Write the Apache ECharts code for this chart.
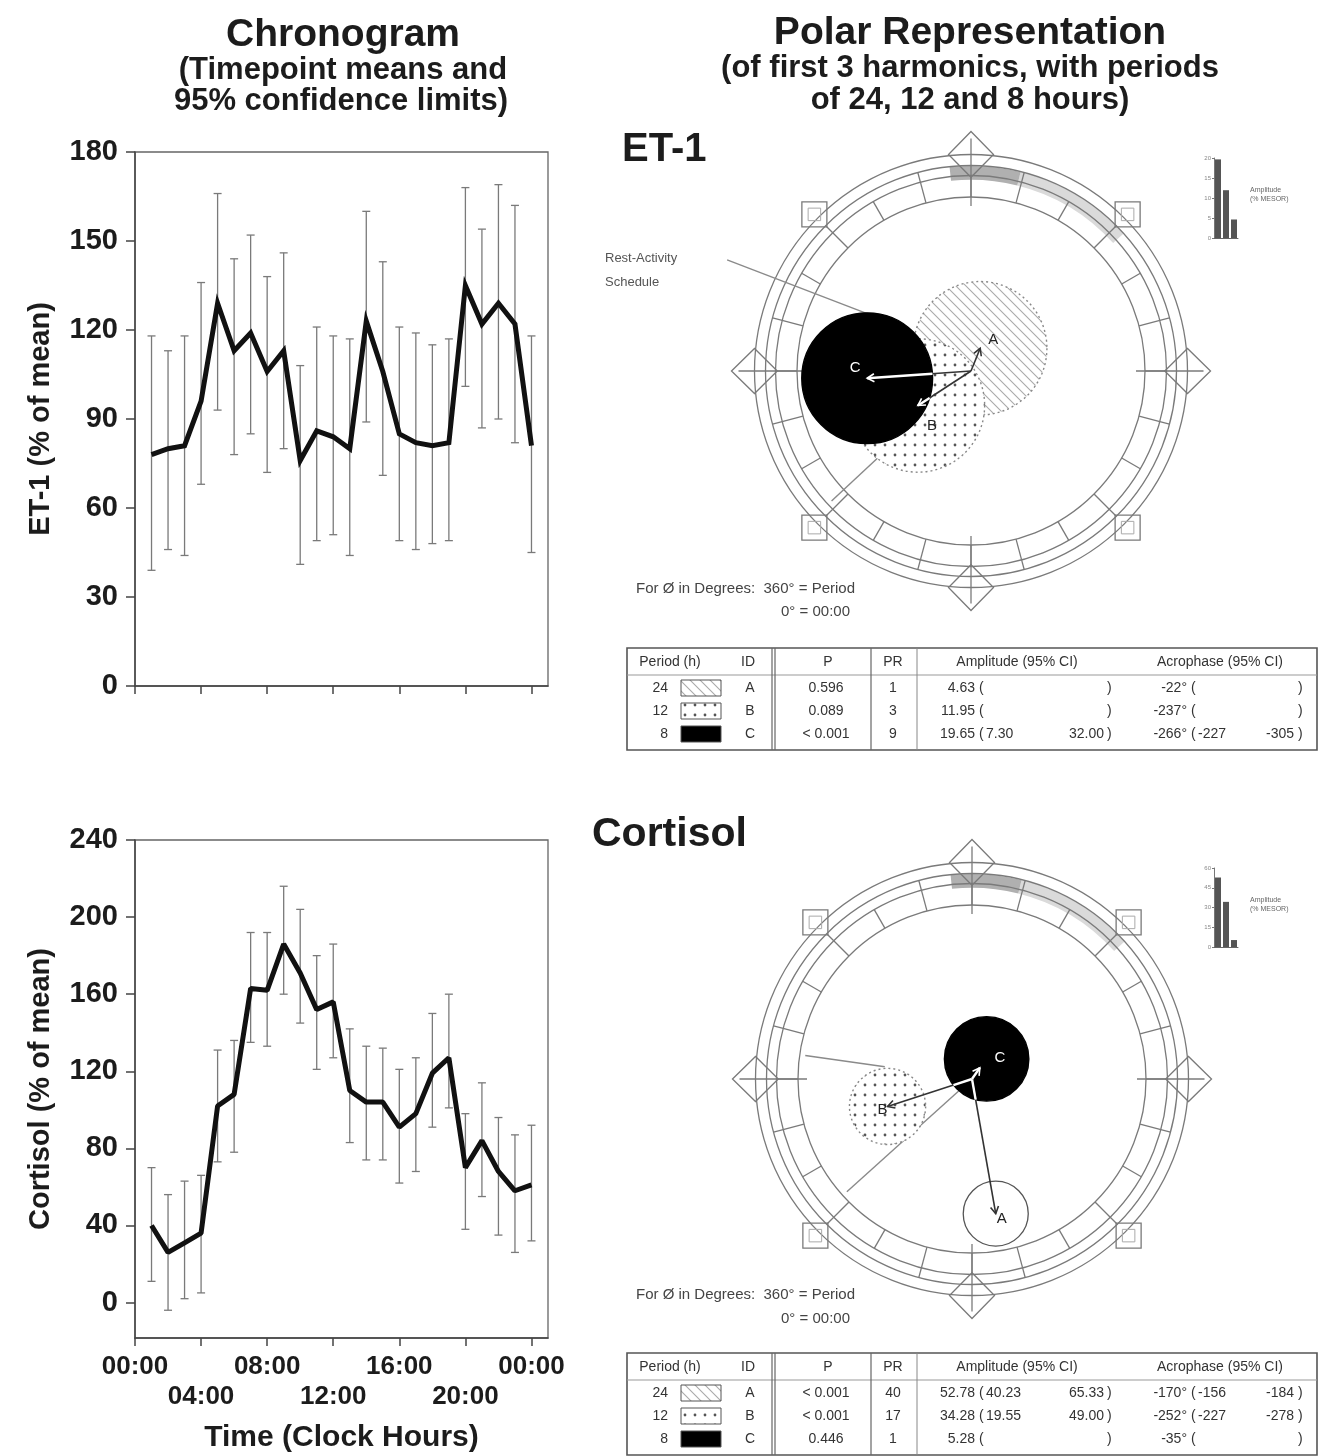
<!DOCTYPE html>
<html><head><meta charset="utf-8">
<script src="https://cdn.jsdelivr.net/npm/echarts@6/dist/echarts.min.js"></script>
<style>html,body{margin:0;padding:0;background:#fff}#c{width:1320px;height:1456px}</style>
</head><body><div id="c"></div>
<script>
// ---------------- DATA ----------------
const hours = [1,2,3,4,5,6,7,8,9,10,11,12,13,14,15,16,17,18,19,20,21,22,23,24];
const et1Mean  = [78, 80, 81, 96, 129, 113, 119, 106, 113, 76, 86, 84, 80, 123, 106, 85, 82, 81, 82, 135, 122, 129, 122, 81];
const et1Upper = [118, 113, 118, 136, 166, 144, 152, 138, 146, 108, 121, 118, 117, 160, 143, 121, 119, 115, 117, 168, 154, 169, 162, 118];
const et1Lower = [39, 46, 44, 68, 93, 78, 85, 72, 80, 41, 49, 51, 44, 89, 71, 49, 46, 48, 49, 101, 87, 90, 82, 45];
const cortMean  = [40, 26, 31, 36, 102, 108, 163, 162, 186, 171, 152, 156, 110, 104, 104, 91, 98, 119, 127, 70, 84, 68, 58, 61];
const cortUpper = [70, 56, 63, 66, 131, 136, 192, 192, 216, 204, 180, 186, 142, 133, 132, 121, 127, 150, 160, 98, 114, 96, 87, 92];
const cortLower = [11, -4, 2, 5, 73, 78, 135, 133, 160, 145, 121, 127, 83, 74, 74, 62, 68, 91, 101, 38, 55, 35, 26, 32];
const xTickHours  = [0, 4, 8, 12, 16, 20, 24];
const xTickLabels = ['00:00','04:00','08:00','12:00','16:00','20:00','00:00'];
const et1YTicks  = [0, 30, 60, 90, 120, 150, 180];
const cortYTicks = [0, 40, 80, 120, 160, 200, 240];

// harmonics (cosinor)
const harmPeriods = [24, 12, 8];
const harmIds = ['A', 'B', 'C'];
const et1P = ['0.596', '0.089', '< 0.001'];
const et1PR = [1, 3, 9];
const et1Amp = [4.63, 11.95, 19.65];
const et1AmpCI = [null, null, [7.30, 32.00]];
const et1Phase = [-22, -237, -266];
const et1PhaseCI = [null, null, [-227, -305]];
const et1RegionAmp = [4.63, 11.95, 19.65];
const et1RegionPhase = [-22, -237, -266];
const et1RegionRadius = [12.6, 12.6, 12.35];
const et1RestLines = [[0, 227, 36, 227], [19.8, 300, 50.6, 294.5]]; // [r1, clockDeg1, r2, clockDeg2]

const cortP = ['< 0.001', '< 0.001', '0.446'];
const cortPR = [40, 17, 1];
const cortAmp = [52.78, 34.28, 5.28];
const cortAmpCI = [[40.23, 65.33], [19.55, 49.00], null];
const cortPhase = [-170, -252, -35];
const cortPhaseCI = [[-156, -184], [-227, -278], null];
const cortRegionAmp = [52.78, 34.28, 9.6];
const cortRegionPhase = [-170, -252, -36];
const cortRegionRadius = [12.55, 14.7, 16.3];
const cortRestLines = [[0, 228, 65, 228], [34, 278, 65, 278]];

const et1PolarMax = 47.2;   // amplitude units at polar frame half-size
const cortPolarMax = 96.5;
const et1MiniTicks = [0, 5, 10, 15, 20];
const cortMiniTicks = [0, 15, 30, 45, 60];

// ---------------- HELPERS ----------------
const FONT = '"Liberation Sans", Arial, Helvetica, sans-serif';
const INK = '#1c1c1c';
function polarXY(amp, phase) { const t = -phase * Math.PI / 180; return [amp * Math.sin(t), amp * Math.cos(t)]; }
function angXY(r, deg) { const t = deg * Math.PI / 180; return [r * Math.sin(t), r * Math.cos(t)]; }

function makePattern(type, bg) {
  const c = document.createElement('canvas'); c.width = c.height = 10;
  const g = c.getContext('2d');
  if (bg) { g.fillStyle = bg; g.fillRect(0, 0, 10, 10); }
  if (type === 'dots') { g.fillStyle = '#555'; g.beginPath(); g.arc(5, 5, 1.4, 0, Math.PI * 2); g.fill(); }
  if (type === 'hatch') { g.strokeStyle = '#aaa'; g.lineWidth = 1.1; g.beginPath();
    g.moveTo(0, 0); g.lineTo(10, 10); g.moveTo(-5, 5); g.lineTo(5, 15); g.moveTo(5, -5); g.lineTo(15, 5); g.stroke(); }
  return { image: c, repeat: 'repeat' };
}
const hatchFill = makePattern('hatch', '#fff');
const dotsFill = makePattern('dots', '#fff');

function errRender(params, api) {
  const x = api.value(0), lo = api.value(1), hi = api.value(2);
  const p1 = api.coord([x, hi]), p2 = api.coord([x, lo]);
  const w = 4, st = { stroke: '#7a7a7a', lineWidth: 1.3 };
  return { type: 'group', children: [
    { type: 'line', shape: { x1: p1[0], y1: p1[1], x2: p2[0], y2: p2[1] }, style: st },
    { type: 'line', shape: { x1: p1[0] - w, y1: p1[1], x2: p1[0] + w, y2: p1[1] }, style: st },
    { type: 'line', shape: { x1: p2[0] - w, y1: p2[1], x2: p2[0] + w, y2: p2[1] }, style: st }
  ]};
}

function frameRender(M) {
  return function (params, api) {
    const c = api.coord([0, 0]); const H = api.size([M, 0])[0];
    const P = (r, deg) => { const t = deg * Math.PI / 180; return [c[0] + r * H * Math.sin(t), c[1] - r * H * Math.cos(t)]; };
    const zr = d => (d - 90) * Math.PI / 180;
    const st = { stroke: '#7a7a7a', lineWidth: 1.3, fill: 'none' };
    const kids = [];
    kids.push({ type: 'sector', shape: { cx: c[0], cy: c[1], r0: 0.765 * H, r: 0.82 * H, startAngle: zr(14), endAngle: zr(48), clockwise: true }, style: { fill: '#dadada' } });
    kids.push({ type: 'sector', shape: { cx: c[0], cy: c[1], r0: 0.765 * H, r: 0.82 * H, startAngle: zr(-6), endAngle: zr(14), clockwise: true }, style: { fill: '#b0b0b0' } });
    [0.866, 0.822, 0.782, 0.696].forEach(r => kids.push({ type: 'circle', shape: { cx: c[0], cy: c[1], r: r * H }, style: st }));
    for (let h = 0; h < 24; h++) {
      const a = P(0.696, h * 15), b = P(0.782, h * 15);
      kids.push({ type: 'line', shape: { x1: a[0], y1: a[1], x2: b[0], y2: b[1] }, style: st });
      if (h % 2 === 1) { const a2 = P(0.782, h * 15), b2 = P(0.822, h * 15);
        kids.push({ type: 'line', shape: { x1: a2[0], y1: a2[1], x2: b2[0], y2: b2[1] }, style: st }); }
    }
    [0, 90, 180, 270].forEach(d => {
      const a = P(0.66, d), b = P(0.93, d);
      kids.push({ type: 'line', shape: { x1: a[0], y1: a[1], x2: b[0], y2: b[1] }, style: st });
      const t = d * Math.PI / 180, px = Math.cos(t), py = Math.sin(t);
      const base = P(0.866, d), off = 0.09 * H;
      const pts = [P(0.958, d), [base[0] + px * off, base[1] + py * off], P(0.775, d), [base[0] - px * off, base[1] - py * off]];
      kids.push({ type: 'polygon', shape: { points: pts }, style: st });
    });
    [45, 135, 225, 315].forEach(d => {
      const m = P(0.886, d), s = 0.1 * H;
      kids.push({ type: 'rect', shape: { x: m[0] - s / 2, y: m[1] - s / 2, width: s, height: s }, style: st });
      kids.push({ type: 'rect', shape: { x: m[0] - s / 4, y: m[1] - s / 4, width: s / 2, height: s / 2 }, style: { stroke: '#aaa', lineWidth: 1, fill: 'none' } });
    });
    return { type: 'group', children: kids };
  };
}

function restRender(params, api) {
  const a = api.coord(angXY(api.value(0), api.value(1)));
  const b = api.coord(angXY(api.value(2), api.value(3)));
  return { type: 'line', shape: { x1: a[0], y1: a[1], x2: b[0], y2: b[1] }, style: { stroke: '#8a8a8a', lineWidth: 1.4 } };
}

function regionRender(styles) {
  return function (params, api) {
    const c = api.coord([api.value(0), api.value(1)]);
    const r = api.size([api.value(2), 0])[0];
    const s = styles[api.value(3)];
    return { type: 'circle', shape: { cx: c[0], cy: c[1], r: r },
      style: { fill: s.fill, stroke: s.stroke, lineWidth: s.lw || 1.4, lineDash: s.dash || null } };
  };
}

function vectorRender(black, labelOff, labelColor) {
  return function (params, api) {
    const i = api.value(2);
    const o = api.coord([0, 0]); const e = api.coord([api.value(0), api.value(1)]);
    const dx = e[0] - o[0], dy = e[1] - o[1];
    const kids = [{ type: 'line', shape: { x1: o[0], y1: o[1], x2: e[0], y2: e[1] }, style: { stroke: '#333', lineWidth: 1.6 } }];
    const cc = api.coord([black[0], black[1]]); const rr = api.size([black[2], 0])[0];
    const fx = o[0] - cc[0], fy = o[1] - cc[1];
    const a = dx * dx + dy * dy, b = 2 * (fx * dx + fy * dy), cq = fx * fx + fy * fy - rr * rr;
    const disc = b * b - 4 * a * cq;
    if (a > 0 && disc > 0) {
      const t1 = Math.max(0, (-b - Math.sqrt(disc)) / (2 * a)), t2 = Math.min(1, (-b + Math.sqrt(disc)) / (2 * a));
      if (t2 > t1) kids.push({ type: 'line', shape: { x1: o[0] + t1 * dx, y1: o[1] + t1 * dy, x2: o[0] + t2 * dx, y2: o[1] + t2 * dy }, style: { stroke: '#fff', lineWidth: 2.4 } });
    }
    const L = Math.sqrt(a) || 1, ux = dx / L, uy = dy / L;
    const tipInside = Math.hypot(e[0] - cc[0], e[1] - cc[1]) < rr;
    const wc = tipInside ? '#fff' : '#333';
    kids.push({ type: 'polyline', shape: { points: [[e[0] - 7 * ux + 4 * uy, e[1] - 7 * uy - 4 * ux], [e[0], e[1]], [e[0] - 7 * ux - 4 * uy, e[1] - 7 * uy + 4 * ux]] }, style: { stroke: wc, lineWidth: 1.6, fill: 'none' } });
    kids.push({ type: 'text', x: e[0] + labelOff[i][0], y: e[1] + labelOff[i][1],
      style: { text: harmIds[i], font: '15px ' + FONT, fill: labelColor[i], align: 'center', verticalAlign: 'middle', textAlign: 'center', textVerticalAlign: 'middle' } });
    return { type: 'group', children: kids };
  };
}

// ---------------- AXES ----------------
const tickStyle = { color: '#444', width: 1.5 };
const rowOneHours = xTickHours.filter((h, k) => k % 2 === 0);
const rowTwoHours = xTickHours.filter((h, k) => k % 2 === 1);
const hourLabel = v => xTickLabels[xTickHours.indexOf(v)];
function chronoX(gridIndex, showLabels) {
  return {
    type: 'value', gridIndex, min: 0, max: 25, position: 'bottom',
    axisLine: { show: true, onZero: false, lineStyle: tickStyle },
    axisTick: { show: true, length: 8, inside: false, customValues: xTickHours, lineStyle: tickStyle },
    splitLine: { show: false },
    axisLabel: {
      show: showLabels, customValues: rowOneHours, showMinLabel: true, showMaxLabel: true, hideOverlap: false,
      margin: 16, fontSize: 26, fontWeight: 'bold', fontFamily: FONT, color: INK, formatter: hourLabel
    },
    name: showLabels ? 'Time (Clock Hours)' : '', nameLocation: 'middle', nameGap: 85,
    nameTextStyle: { fontSize: 30, fontWeight: 'bold', fontFamily: FONT, color: INK }
  };
}
function chronoXRow2(gridIndex) {
  return {
    type: 'value', gridIndex, min: 0, max: 25, position: 'bottom', offset: 0,
    axisLine: { show: false, onZero: false }, axisTick: { show: false }, splitLine: { show: false },
    axisLabel: { show: true, customValues: rowTwoHours, showMinLabel: true, showMaxLabel: true, hideOverlap: false,
      margin: 46, fontSize: 26, fontWeight: 'bold', fontFamily: FONT, color: INK, formatter: hourLabel }
  };
}
function chronoY(gridIndex, min, max, ticks, name) {
  return {
    type: 'value', gridIndex, min, max,
    axisLine: { show: true, onZero: false, lineStyle: tickStyle },
    axisTick: { show: true, length: 9, customValues: ticks, lineStyle: tickStyle },
    splitLine: { show: false },
    axisLabel: { customValues: ticks, showMinLabel: true, showMaxLabel: true, margin: 17, fontSize: 29, fontWeight: 'bold', fontFamily: FONT, color: INK },
    name, nameLocation: 'middle', nameGap: 80,
    nameTextStyle: { fontSize: 29, fontWeight: 'bold', fontFamily: FONT, color: INK }
  };
}
function hiddenAxis(gridIndex, M) { return { type: 'value', gridIndex, min: -M, max: M, show: false }; }
function miniX(gridIndex) { return { type: 'category', gridIndex, data: ['1', '2', '3'], axisLine: { lineStyle: { color: '#666' } }, axisTick: { show: false }, axisLabel: { show: false } }; }
function miniY(gridIndex, ticks) {
  return { type: 'value', gridIndex, min: 0, max: ticks[ticks.length - 1], interval: ticks[1] - ticks[0],
    axisLine: { show: true, lineStyle: { color: '#777' } }, axisTick: { show: true, length: 2, lineStyle: { color: '#777' } },
    splitLine: { show: false }, axisLabel: { fontSize: 6, color: '#888', margin: 3, fontFamily: FONT } };
}

// ---------------- POLAR DATA ----------------
const et1Regions = harmIds.map((id, i) => [...polarXY(et1RegionAmp[i], et1RegionPhase[i]), et1RegionRadius[i], i]);
const cortRegions = harmIds.map((id, i) => [...polarXY(cortRegionAmp[i], cortRegionPhase[i]), cortRegionRadius[i], i]);
const et1Vectors = harmIds.map((id, i) => [...polarXY(et1Amp[i], et1Phase[i]), i]);
const cortVectors = harmIds.map((id, i) => [...polarXY(cortAmp[i], cortPhase[i]), i]);
const et1RegStyles = [
  { fill: hatchFill, stroke: '#888', dash: [2, 3] },
  { fill: dotsFill, stroke: '#888', dash: [2, 3] },
  { fill: '#000', stroke: '#000' }];
const cortRegStyles = [
  { fill: '#fff', stroke: '#555', lw: 1.3 },
  { fill: dotsFill, stroke: '#888', dash: [2, 3] },
  { fill: '#000', stroke: '#000' }];
const sortedDesc = arr => arr.slice().sort((a, b) => b - a);

function polarSeries(gi, M, regions, vectors, restLines, regStyles, labelOff, labelColor) {
  return [
    { type: 'custom', xAxisIndex: gi, yAxisIndex: gi, clip: false, silent: true, z: 1, data: [[0, 0]], renderItem: frameRender(M), encode: { x: 0, y: 1 } },
    { type: 'custom', xAxisIndex: gi, yAxisIndex: gi, clip: false, silent: true, z: 2, data: restLines, renderItem: restRender, encode: { x: 0, y: 1 } },
    { type: 'custom', xAxisIndex: gi, yAxisIndex: gi, clip: false, silent: true, z: 3, data: regions, renderItem: regionRender(regStyles), encode: { x: 0, y: 1 } },
    { type: 'custom', xAxisIndex: gi, yAxisIndex: gi, clip: false, silent: true, z: 4, data: vectors, renderItem: vectorRender(regions[2], labelOff, labelColor), encode: { x: 0, y: 1 } }
  ];
}

// ---------------- TABLES ----------------
function tableGraphics(top, pArr, prArr, amp, ampCI, ph, phCI) {
  const g = [], H = 102;
  const txt = (x, y, s, align) => g.push({ type: 'text', x, y, style: { text: s, font: '14px ' + FONT, fill: '#333', align: align || 'center', verticalAlign: 'middle', textAlign: align || 'center', textVerticalAlign: 'middle' } });
  const ln = (x1, y1, x2, y2, c, w) => g.push({ type: 'line', shape: { x1, y1, x2, y2 }, style: { stroke: c || '#666', lineWidth: w || 1.2 } });
  g.push({ type: 'rect', shape: { x: 627, y: top, width: 690, height: H }, style: { fill: 'none', stroke: '#555', lineWidth: 1.6 } });
  ln(627, top + 27, 1317, top + 27, '#999', 1);
  ln(772, top, 772, top + H); ln(775, top, 775, top + H); ln(871, top, 871, top + H); ln(917, top, 917, top + H, '#888', 1);
  const hy = top + 14;
  txt(670, hy, 'Period (h)'); txt(748, hy, 'ID'); txt(828, hy, 'P'); txt(893, hy, 'PR');
  txt(1017, hy, 'Amplitude (95% CI)'); txt(1220, hy, 'Acrophase (95% CI)');
  const fills = [hatchFill, dotsFill, '#000'];
  harmIds.forEach((id, i) => {
    const y = top + 40 + i * 23;
    txt(668, y, String(harmPeriods[i]), 'right');
    g.push({ type: 'rect', shape: { x: 681, y: y - 8, width: 40, height: 16 }, style: { fill: fills[i], stroke: '#555', lineWidth: 1 } });
    txt(750, y, id); txt(826, y, pArr[i]); txt(893, y, String(prArr[i]));
    txt(975, y, amp[i].toFixed(2), 'right'); txt(979, y, '(', 'left'); txt(1107, y, ')', 'left');
    if (ampCI[i]) { txt(986, y, ampCI[i][0].toFixed(2), 'left'); txt(1104, y, ampCI[i][1].toFixed(2), 'right'); }
    txt(1187, y, ph[i] + '°', 'right'); txt(1191, y, '(', 'left'); txt(1298, y, ')', 'left');
    if (phCI[i]) { txt(1198, y, String(phCI[i][0]), 'left'); txt(1294, y, String(phCI[i][1]), 'right'); }
  });
  return g;
}

function T(x, y, s, size, opts) {
  opts = opts || {};
  return { type: 'text', x, y, z: 10, style: { text: s, font: (opts.weight || 'bold') + ' ' + size + 'px ' + FONT, fill: opts.color || INK,
    align: opts.align || 'center', verticalAlign: 'middle', textAlign: opts.align || 'center', textVerticalAlign: 'middle' } };
}

const graphics = [
  T(343, 35, 'Chronogram', 39), T(343, 70, '(Timepoint means and', 31), T(341, 101, '95% confidence limits)', 31),
  T(970, 33, 'Polar Representation', 39), T(970, 68, '(of first 3 harmonics, with periods', 31), T(970, 100, 'of 24, 12 and 8 hours)', 31),
  T(622, 150, 'ET-1', 40, { align: 'left' }), T(592, 835, 'Cortisol', 41, { align: 'left' }),
  T(605, 258, 'Rest-Activity', 13, { align: 'left', weight: 'normal', color: '#555' }),
  T(605, 282, 'Schedule', 13, { align: 'left', weight: 'normal', color: '#555' }),
  T(855, 589, 'For Ø in Degrees:  360° = Period', 15, { align: 'right', weight: 'normal', color: '#444' }),
  T(850, 612, '0° = 00:00', 15, { align: 'right', weight: 'normal', color: '#444' }),
  T(855, 1295, 'For Ø in Degrees:  360° = Period', 15, { align: 'right', weight: 'normal', color: '#444' }),
  T(850, 1319, '0° = 00:00', 15, { align: 'right', weight: 'normal', color: '#444' }),
  T(1250, 190, 'Amplitude', 7, { align: 'left', weight: 'normal', color: '#666' }),
  T(1250, 199, '(% MESOR)', 7, { align: 'left', weight: 'normal', color: '#666' }),
  T(1250, 900, 'Amplitude', 7, { align: 'left', weight: 'normal', color: '#666' }),
  T(1250, 909, '(% MESOR)', 7, { align: 'left', weight: 'normal', color: '#666' }),
  ...tableGraphics(648, et1P, et1PR, et1Amp, et1AmpCI, et1Phase, et1PhaseCI),
  ...tableGraphics(1353, cortP, cortPR, cortAmp, cortAmpCI, cortPhase, cortPhaseCI)
];

// ---------------- OPTION ----------------
const gridBorder = { show: true, borderColor: '#666', borderWidth: 1.3, backgroundColor: 'transparent' };
const option = {
  animation: false,
  backgroundColor: '#fff',
  grid: [
    Object.assign({ left: 135, top: 152, width: 413, height: 534 }, gridBorder),
    Object.assign({ left: 135, top: 840, width: 413, height: 498 }, gridBorder),
    { left: 721, top: 121, width: 500, height: 500 },
    { left: 722, top: 829, width: 500, height: 500 },
    { left: 1214, top: 158, width: 24, height: 80 },
    { left: 1214, top: 868, width: 24, height: 79 }
  ],
  xAxis: [chronoX(0, false), chronoX(1, true), hiddenAxis(2, et1PolarMax), hiddenAxis(3, cortPolarMax), miniX(4), miniX(5), chronoXRow2(1)],
  yAxis: [
    chronoY(0, 0, 180, et1YTicks, 'ET-1 (% of mean)'),
    chronoY(1, -18.4, 240, cortYTicks, 'Cortisol (% of mean)'),
    hiddenAxis(2, et1PolarMax), hiddenAxis(3, cortPolarMax),
    miniY(4, et1MiniTicks), miniY(5, cortMiniTicks)
  ],
  graphic: graphics,
  series: [
    { type: 'custom', xAxisIndex: 0, yAxisIndex: 0, z: 2, clip: false, data: hours.map((h, i) => [h, et1Lower[i], et1Upper[i]]), renderItem: errRender, encode: { x: 0, y: [1, 2] } },
    { type: 'line', xAxisIndex: 0, yAxisIndex: 0, z: 3, symbol: 'none', data: hours.map((h, i) => [h, et1Mean[i]]), lineStyle: { color: '#111', width: 5, join: 'miter' } },
    { type: 'custom', xAxisIndex: 1, yAxisIndex: 1, z: 2, clip: false, data: hours.map((h, i) => [h, cortLower[i], cortUpper[i]]), renderItem: errRender, encode: { x: 0, y: [1, 2] } },
    { type: 'line', xAxisIndex: 1, yAxisIndex: 1, z: 3, symbol: 'none', data: hours.map((h, i) => [h, cortMean[i]]), lineStyle: { color: '#111', width: 5 } },
    ...polarSeries(2, et1PolarMax, et1Regions, et1Vectors, et1RestLines, et1RegStyles,
      [[13, -8], [14, 20], [-12, -10]], ['#222', '#222', '#fff']),
    ...polarSeries(3, cortPolarMax, cortRegions, cortVectors, cortRestLines, cortRegStyles,
      [[6, 5], [-5, 3], [20, -10]], ['#222', '#222', '#fff']),
    { type: 'bar', xAxisIndex: 4, yAxisIndex: 4, barWidth: 6, barGap: '0%', data: sortedDesc(et1Amp), itemStyle: { color: '#555' }, silent: true },
    { type: 'bar', xAxisIndex: 5, yAxisIndex: 5, barWidth: 6, barGap: '0%', data: sortedDesc(cortAmp), itemStyle: { color: '#555' }, silent: true }
  ]
};
const chart = echarts.init(document.getElementById('c'), null, { renderer: 'canvas' });
chart.setOption(option);
</script></body></html>
